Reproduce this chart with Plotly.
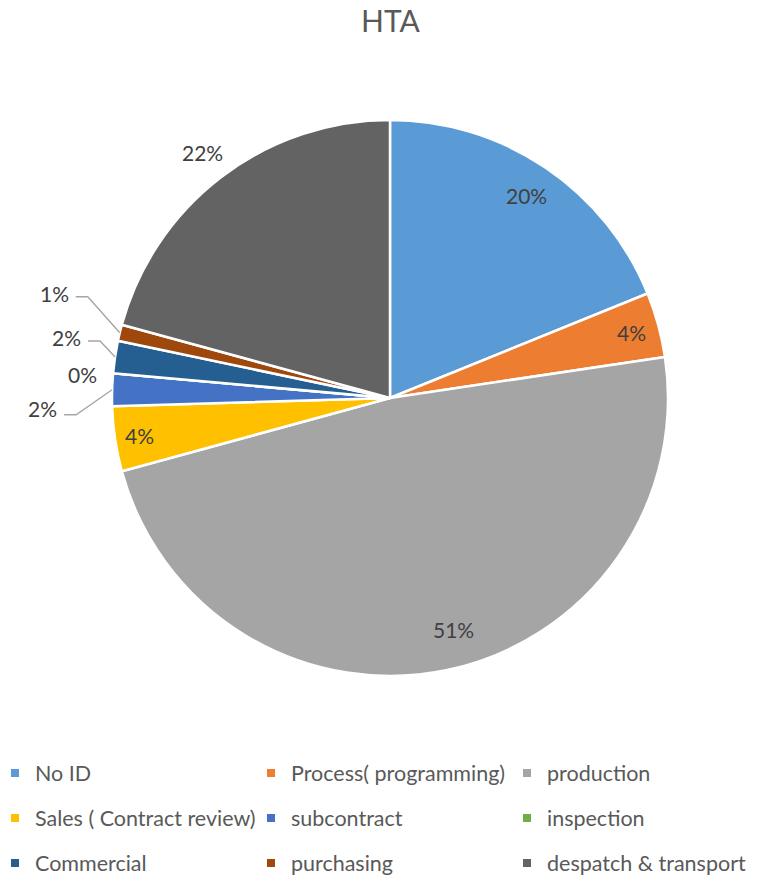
import math
import plotly.graph_objects as go

# Issue categories and their share values (as labelled, in %)
categories = ["No ID", "Process( programming)", "production",
              "Sales ( Contract review)", "subcontract", "inspection",
              "Commercial", "purchasing", "despatch & transport"]
values = [20, 4, 51, 4, 2, 0, 2, 1, 22]
colors = ["#5B9BD5", "#ED7D31", "#A5A5A5", "#FFC000", "#4472C4",
          "#70AD47", "#255E91", "#9E480E", "#636363"]

# Figure geometry (pixels)
W, H = 767, 877
CX, CY, R = 390, 398, 278          # pie centre and radius

FONT = "Lato, 'Open Sans', sans-serif"
LABEL_COLOR = "#404040"
LEADER_COLOR = "#A6A6A6"

# Data-label placement per slice:
#   ("radial", radius factor, angle shift in degrees)  -> text along mid-angle
#   ("leader", elbow dx, elbow dy, end dx, end dy, text dx, text dy) -> callout
#   ("side", text dx, text dy) -> callout without leader line
label_layout = [
    ("radial", 0.88, 0.0),
    ("radial", 0.90, 0.0),
    ("radial", 0.865, -3.5),
    ("radial", 0.91, 0.0),
    ("leader", -36, 25, -48, 25, -53, 19),
    ("side", -14, 1),
    ("leader", -15, -16, -27, -16, -32, -19),
    ("leader", -32, -36, -44, -36, -49, -39),
    ("radial", 1.11, 0.0),
]


def px_to_paper(x, y):
    return x / W, 1 - y / H


def polar(angle_deg, radius):
    a = math.radians(angle_deg)
    return CX + radius * math.sin(a), CY - radius * math.cos(a)


total = sum(values)
annotations = []
shapes = []
cum = 0.0
for val, spec in zip(values, label_layout):
    mid = (cum + val / 2) / total * 360.0
    cum += val
    text = f"{val}%"
    if spec[0] == "radial":
        _, fac, shift = spec
        x, y = polar(mid + shift, R * fac)
        px, py = px_to_paper(x, y)
        annotations.append(dict(x=px, y=py, xref="paper", yref="paper",
                                text=text, showarrow=False,
                                xanchor="center", yanchor="middle"))
    else:
        ex, ey = polar(mid, R)
        if spec[0] == "leader":
            _, bx, by, qx, qy, tx, ty = spec
            p0 = px_to_paper(ex, ey)
            p1 = px_to_paper(ex + bx, ey + by)
            p2 = px_to_paper(ex + qx, ey + qy)
            shapes.append(dict(
                type="path", xref="paper", yref="paper",
                path=f"M {p0[0]},{p0[1]} L {p1[0]},{p1[1]} L {p2[0]},{p2[1]}",
                line=dict(color=LEADER_COLOR, width=1.4)))
        else:
            _, tx, ty = spec
        px, py = px_to_paper(ex + tx, ey + ty)
        annotations.append(dict(x=px, y=py, xref="paper", yref="paper",
                                text=text, showarrow=False,
                                xanchor="right", yanchor="middle"))

for a in annotations:
    a["font"] = dict(family=FONT, size=21, color=LABEL_COLOR)

# Title
annotations.append(dict(x=391 / W, y=1 - 20 / H, xref="paper", yref="paper",
                        text="HTA", showarrow=False,
                        xanchor="center", yanchor="middle",
                        font=dict(family=FONT, size=30, color="#595959")))

d0 = px_to_paper(CX - R, CY + R)
d1 = px_to_paper(CX + R, CY - R)

fig = go.Figure()
fig.add_trace(go.Pie(
    labels=categories,
    values=values,
    textinfo="none",
    sort=False,
    direction="clockwise",
    rotation=0,
    marker=dict(colors=colors, line=dict(color="white", width=2.5)),
    automargin=False,
    domain=dict(x=[d0[0], d1[0]], y=[d0[1], d1[1]]),
    hoverinfo="label+value",
    showlegend=False,
))

# Legend: three columns by three rows, one legend box per entry
col_text_x = [34, 290, 546]
row_y = [773, 818, 863]
legend_layouts = {}
for i, (cat, col) in enumerate(zip(categories, colors)):
    key = "legend" if i == 0 else f"legend{i + 1}"
    fig.add_trace(go.Scatter(
        x=[None], y=[None], mode="markers", name=cat,
        marker=dict(symbol="square", size=8, color=col),
        legend=key, showlegend=True, hoverinfo="skip"))
    r, c = divmod(i, 3)
    lx, ly = px_to_paper(col_text_x[c] - 39, row_y[r])
    legend_layouts[key] = dict(
        x=lx, y=ly, xanchor="left", yanchor="middle",
        orientation="h", bgcolor="rgba(0,0,0,0)",
        font=dict(family=FONT, size=21.5, color="#595959"))

fig.update_layout(
    width=W, height=H,
    margin=dict(l=0, r=0, t=0, b=0, autoexpand=False),
    paper_bgcolor="white",
    plot_bgcolor="white",
    xaxis=dict(visible=False),
    yaxis=dict(visible=False),
    annotations=annotations,
    shapes=shapes,
    **legend_layouts,
)

fig.write_html("out.html")
